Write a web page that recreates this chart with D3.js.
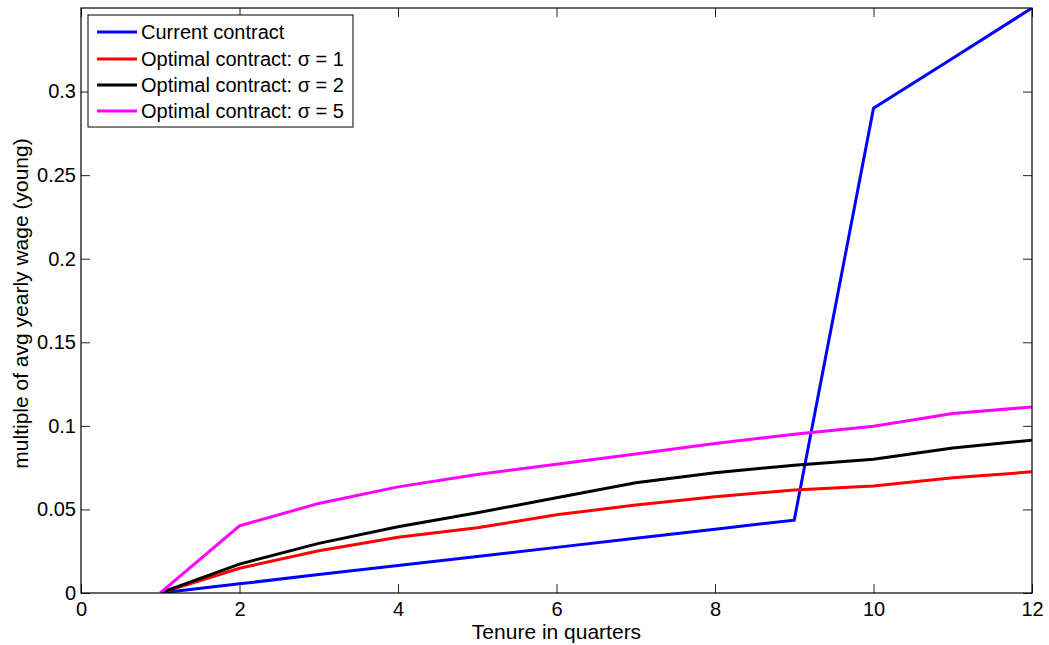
<!DOCTYPE html>
<html><head><meta charset="utf-8">
<script src="https://cdn.jsdelivr.net/npm/d3@7"></script>
<style>body{margin:0;background:#fff}svg{display:block}text{font-family:"Liberation Sans",Arial,sans-serif}</style>
</head><body>
<script>
const quarters = [1,2,3,4,5,6,7,8,9,10,11,12];
const currentContract = [0,0.0055,0.011,0.0164,0.0218,0.0273,0.0327,0.0382,0.0436,0.290,0.320,0.350];
const sigma1 = [0,0.0148,0.0253,0.0333,0.0390,0.0468,0.0526,0.0576,0.0616,0.0640,0.0689,0.0725];
const sigma2 = [0,0.0173,0.0297,0.0396,0.0480,0.0570,0.0659,0.0719,0.0765,0.0800,0.0868,0.0914];
const sigma5 = [0,0.0402,0.0536,0.0635,0.0709,0.0770,0.0831,0.0895,0.0950,0.0998,0.1074,0.1113];
const seriesNames = ["Current contract","Optimal contract: \u03c3 = 1","Optimal contract: \u03c3 = 2","Optimal contract: \u03c3 = 5"];
const seriesColors = ["#0000ff","#ff0000","#000000","#ff00ff"];
const xTicks = [0,2,4,6,8,10,12];
const yTicks = [0,0.05,0.1,0.15,0.2,0.25,0.3];
const yTickLabels = ["0","0.05","0.1","0.15","0.2","0.25","0.3"];

const W=1049,H=645, L=81, R=1032, T=8, B=593;
const svg=d3.select("body").append("svg").attr("width",W).attr("height",H);
const x=d3.scaleLinear().domain([0,12]).range([L,R]);
const y=d3.scaleLinear().domain([0,0.35]).range([B,T]);

svg.append("defs").append("clipPath").attr("id","clip").append("rect")
  .attr("x",L).attr("y",T).attr("width",R-L).attr("height",B-T);

const data=[currentContract,sigma1,sigma2,sigma5];
const line=d3.line().x((d,i)=>x(quarters[i])).y(d=>y(d));
const g=svg.append("g").attr("clip-path","url(#clip)");
data.forEach((s,k)=>{
  g.append("path").datum(s).attr("d",line).attr("fill","none")
   .attr("stroke",seriesColors[k]).attr("stroke-width",3).attr("stroke-linejoin","miter");
});

const fs=20;
const ax=svg.append("g").attr("transform",`translate(0,${B})`)
  .call(d3.axisBottom(x).tickValues(xTicks).tickSize(-9).tickPadding(9).tickFormat(d3.format("d")));
const axT=svg.append("g").attr("transform",`translate(0,${T})`)
  .call(d3.axisTop(x).tickValues(xTicks).tickSize(-9).tickFormat(""));
const ay=svg.append("g").attr("transform",`translate(${L},0)`)
  .call(d3.axisLeft(y).tickValues(yTicks).tickSize(-9).tickPadding(5).tickFormat((d,i)=>yTickLabels[i]));
const ayR=svg.append("g").attr("transform",`translate(${R},0)`)
  .call(d3.axisRight(y).tickValues(yTicks).tickSize(-9).tickFormat(""));
[ax,axT,ay,ayR].forEach(a=>{
  a.select(".domain").remove();
  a.selectAll("line").attr("stroke","#222").attr("stroke-width",1);
  a.selectAll("text").attr("font-size",fs).attr("fill","#000").style("font-family","Liberation Sans, Arial, sans-serif");
});
svg.append("rect").attr("x",L).attr("y",T).attr("width",R-L).attr("height",B-T)
  .attr("fill","none").attr("stroke","#000").attr("stroke-width",1.2);

svg.append("text").attr("x",(L+R)/2).attr("y",639).attr("text-anchor","middle")
  .attr("font-size",21).text("Tenure in quarters");
svg.append("text").attr("transform",`translate(28,${(T+B)/2 + 3}) rotate(-90)`).attr("text-anchor","middle")
  .attr("font-size",21).text("multiple of avg yearly wage (young)");

const lg=svg.append("g");
lg.append("rect").attr("x",88).attr("y",15).attr("width",265).attr("height",112)
  .attr("fill","#fff").attr("stroke","#000").attr("stroke-width",1);
const rowY=[32,59,85,111];
seriesNames.forEach((n,k)=>{
  lg.append("line").attr("x1",97).attr("x2",137).attr("y1",rowY[k]).attr("y2",rowY[k])
    .attr("stroke",seriesColors[k]).attr("stroke-width",3);
  lg.append("text").attr("x",141).attr("y",rowY[k]+7).attr("font-size",fs).text(n);
});
</script>
</body></html>
